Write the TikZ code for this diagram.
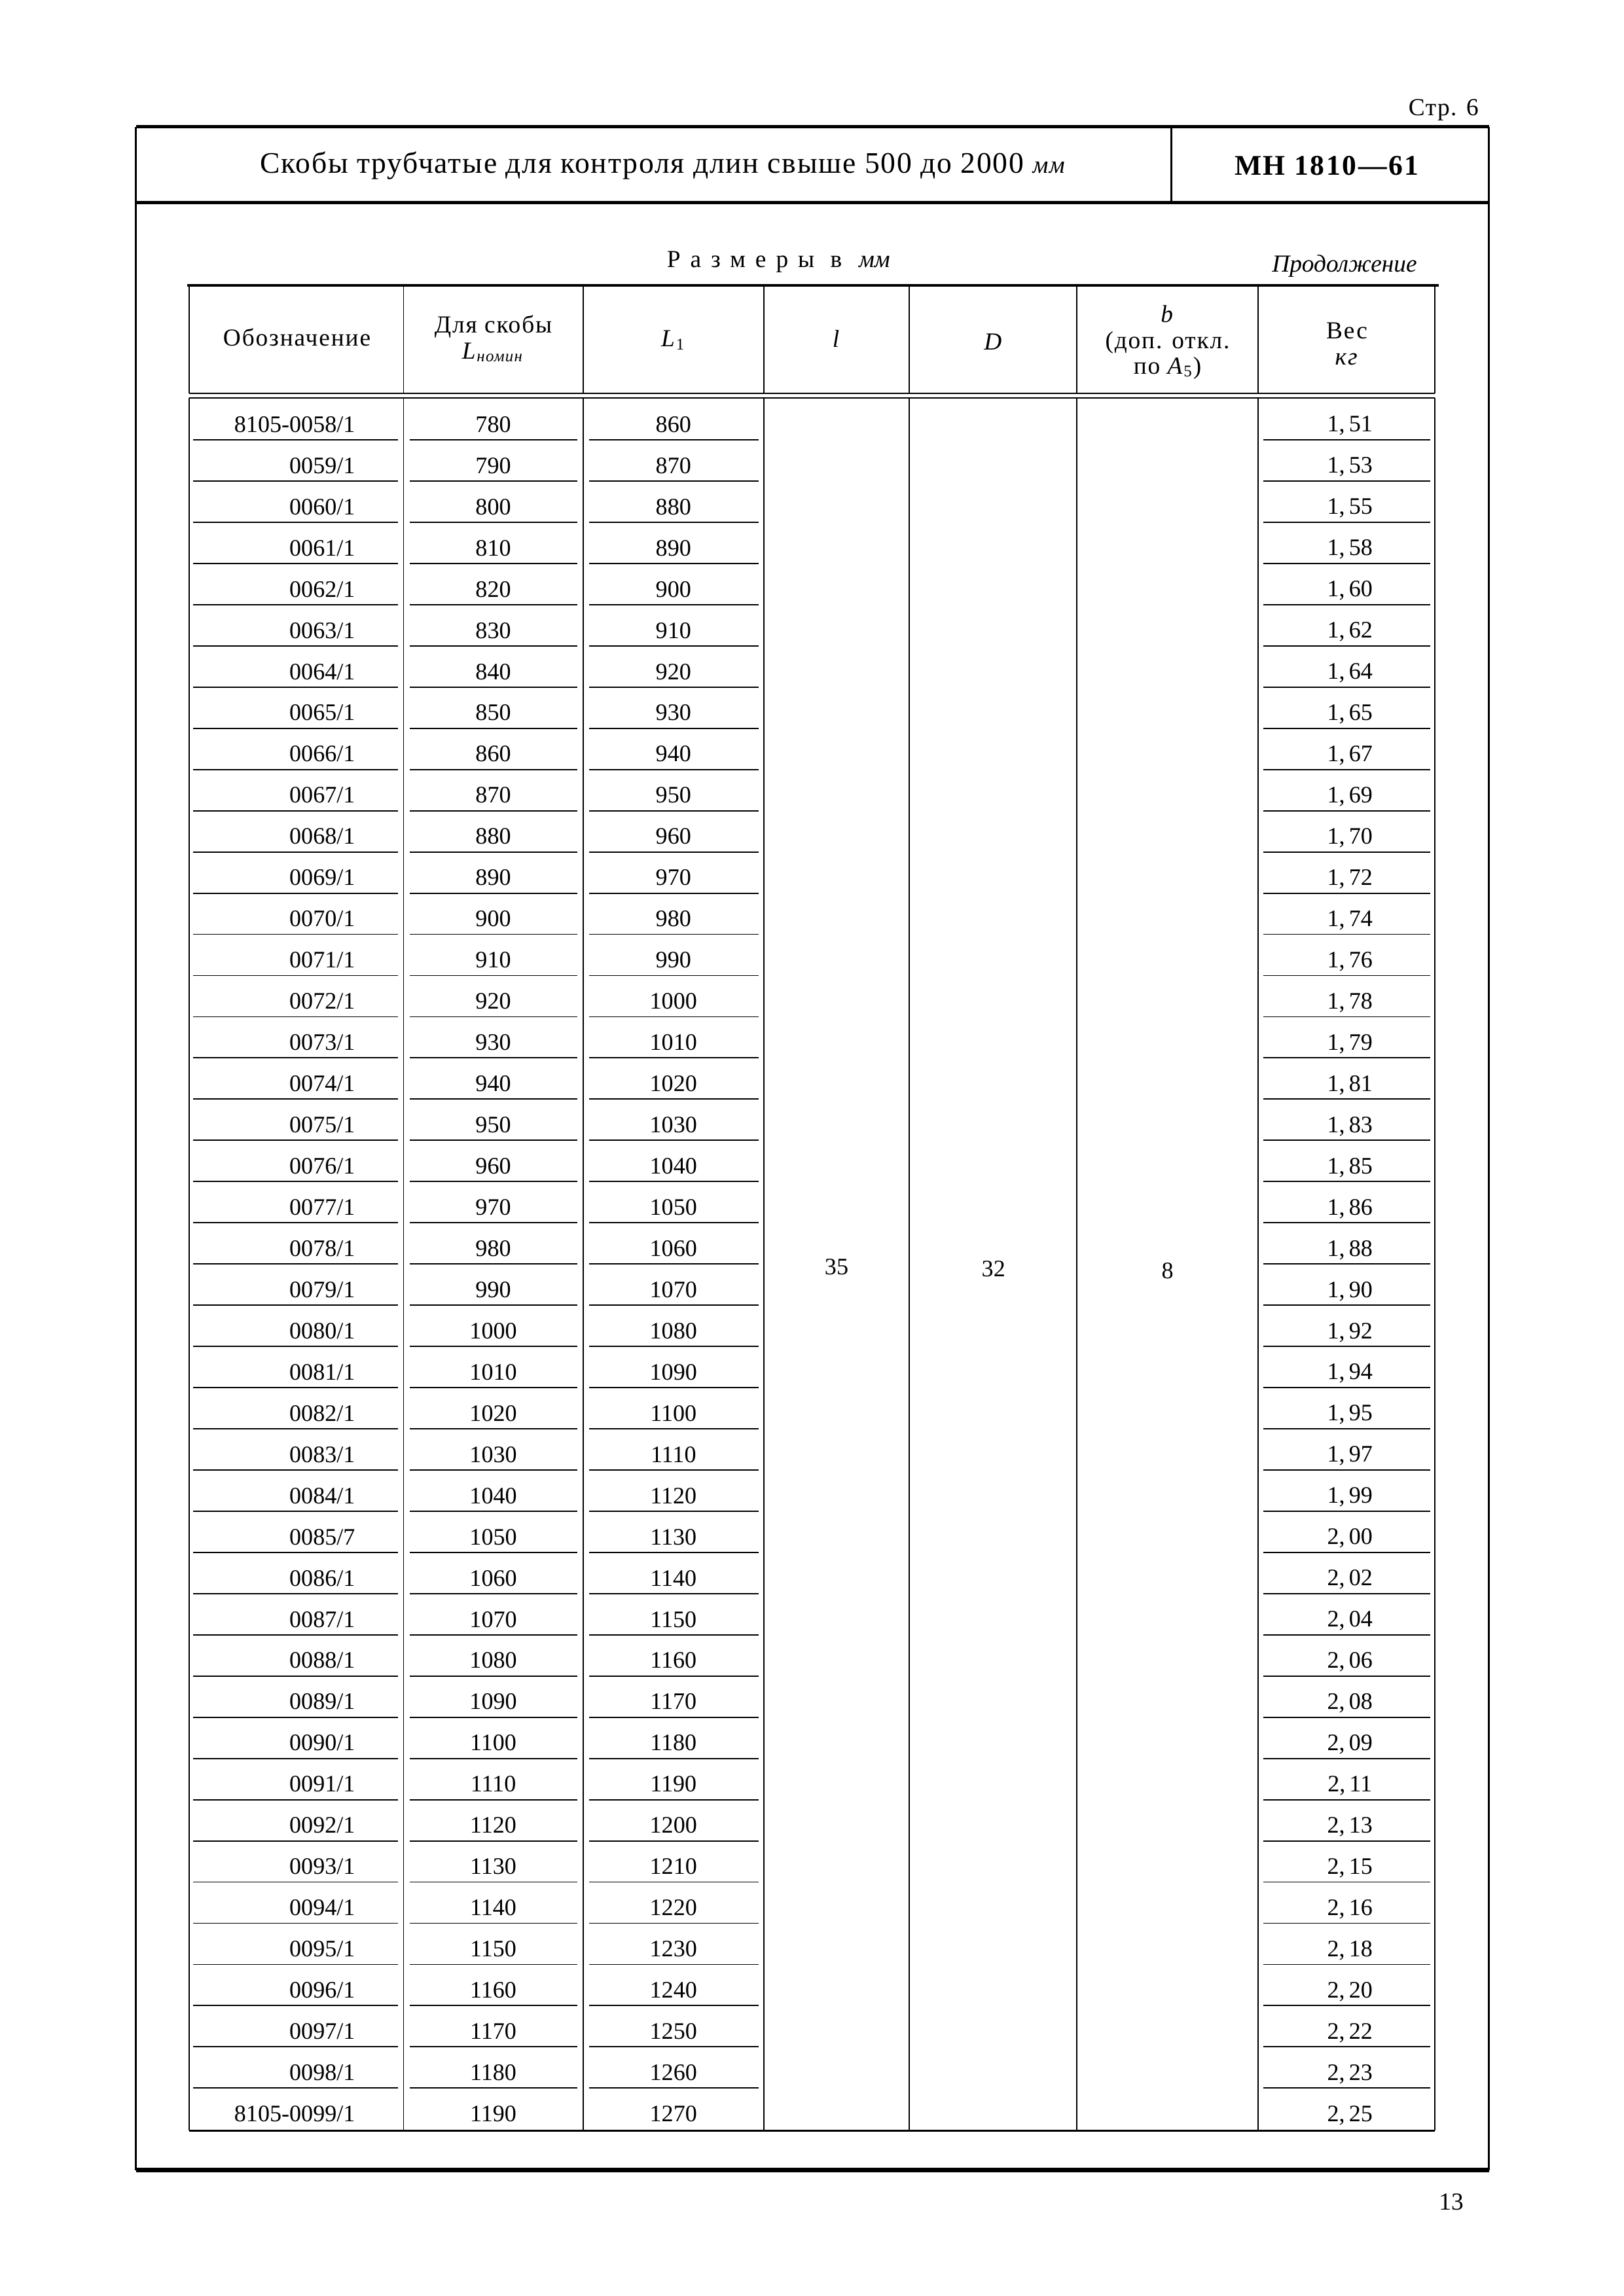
\documentclass[tikz,border=0pt]{standalone}
\usepackage{fontspec}
\setmainfont{Liberation Serif}

\tikzset{
  thickrule/.style={line width=1.2pt},
  framerule/.style={line width=0.7pt},
  thinrule/.style={line width=0.45pt},
  cell/.style={inner sep=0pt, font=\fontsize{8.7}{10}\selectfont},
  headcell/.style={inner sep=0pt, align=center,
    font=\fontsize{9}{9.5}\selectfont\addfontfeatures{LetterSpace=5}},
}

\begin{document}
\begin{tikzpicture}[x=1mm, y=-1mm]
  \useasboundingbox (0,0) rectangle (210,297);

  % page frame and title block
  \node [anchor=east, inner sep=0pt, font=\fontsize{9}{10}\selectfont\addfontfeatures{LetterSpace=4}] (page) at (191.3,14.2) {Стр. 6};
  \draw [thickrule] (17.6,16.4) -- (192.6,16.4);
  \draw [thickrule] (17.6,26.2) -- (192.6,26.2);
  \draw [thickrule, line width=1.5pt] (17.6,280.7) -- (192.6,280.7);
  \draw [framerule] (17.6,16.4) -- (17.6,280.7);
  \draw [framerule] (192.6,16.4) -- (192.6,280.7);
  \draw [framerule] (151.5,16.4) -- (151.5,26.2);
  \node [inner sep=0pt, font=\fontsize{11}{12}\selectfont\addfontfeatures{LetterSpace=4}] (title) at (85.7,21.4)
    {Скобы трубчатые для контроля длин свыше 500 до 2000 {\fontsize{9}{10}\selectfont\itshape мм}};
  \node [inner sep=0pt, font=\fontsize{10.5}{12}\selectfont\bfseries\addfontfeatures{LetterSpace=6}] (code) at (171.6,21.4) {МН 1810—61};
  \node [inner sep=0pt, font=\fontsize{9}{10}\selectfont] (pagenum) at (187.7,284.8) {13};

  % table heading
  \node [inner sep=0pt, font=\fontsize{9}{10}\selectfont] (units) at (100.7,33.9)
    {{\addfontfeatures{LetterSpace=40}Размеры в}\hspace{2.2mm}{\itshape мм}};
  \node [inner sep=0pt, font=\fontsize{9}{10}\selectfont\itshape] (cont) at (173.9,34.4) {Продолжение};

  \draw [thickrule, line width=1pt] (24.2,36.9) -- (186.1,36.9);
  \foreach \x in {24.5,52.2,75.4,98.8,117.6,139.3,162.7,185.6} {
    \draw [thinrule] (\x,36.9) -- (\x,50.9);
    \draw [thinrule] (\x,51.5) -- (\x,275.6);
  }
  \draw [thinrule] (24.5,50.9) -- (185.6,50.9);
  \draw [thinrule] (24.5,51.5) -- (185.6,51.5);
  \draw [thinrule, line width=0.7pt] (24.5,275.6) -- (185.6,275.6);

  \node [headcell] (h-des) at (38.4,43.6) {Обозначение};
  \node [headcell] (h-lnom) at (63.8,43.8) {Для скобы\\\textit{L}\textsubscript{\textit{номин}}};
  \node [headcell] (h-lone) at (87.1,44.0) {\textit{L}\textsubscript{1}};
  \node [headcell] (h-l) at (108.2,43.8) {\textit{l}};
  \node [headcell] (h-d) at (128.5,44.2) {\textit{D}};
  \node [headcell] (h-b) at (151.0,44.3) {\textit{b}\\(доп. откл.\\по \textit{A}\textsubscript{5})};
  \node [headcell] (h-wt) at (174.2,44.5) {Вес\\\textit{кг}};

  % rows
  \foreach \i in {0,...,41} {
    \pgfmathsetmacro{\y}{54.9+5.33*\i}
    \pgfmathtruncatemacro{\num}{58+\i}
    \pgfmathtruncatemacro{\lnom}{780+10*\i}
    \pgfmathtruncatemacro{\lone}{860+10*\i}
    \ifnum\i=0
      \node [cell, anchor=east] (des-\i) at (46.0,\y) {8105-00\num/1};
    \else\ifnum\i=41
      \node [cell, anchor=east] (des-\i) at (46.0,\y) {8105-00\num/1};
    \else\ifnum\i=27
      \node [cell, anchor=east] (des-\i) at (46.0,\y) {00\num/7};
    \else
      \node [cell, anchor=east] (des-\i) at (46.0,\y) {00\num/1};
    \fi\fi\fi
    \node [cell] (lnom-\i) at (63.8,\y) {\lnom};
    \node [cell] (lone-\i) at (87.1,\y) {\lone};
  }
  \foreach \a/\b [count=\i from 0] in {1/51,1/53,1/55,1/58,1/60,1/62,1/64,1/65,1/67,1/69,
      1/70,1/72,1/74,1/76,1/78,1/79,1/81,1/83,1/85,1/86,1/88,1/90,1/92,1/94,1/95,1/97,1/99,
      2/00,2/02,2/04,2/06,2/08,2/09,2/11,2/13,2/15,2/16,2/18,2/20,2/22,2/23,2/25} {
    \pgfmathsetmacro{\y}{55.1+5.33*\i}
    \node [cell] (wt-\i) at (174.6,\y) {\a,\,\b};
  }
  \foreach \i in {0,...,40} {
    \pgfmathsetmacro{\u}{56.9+5.33*\i}
    \draw [thinrule] (25.0,\u) -- (51.5,\u) (53.0,\u) -- (74.7,\u)
      (76.2,\u) -- (98.1,\u) (163.4,\u) -- (185.0,\u);
  }

  % common values
  \node [cell] (l-val) at (108.2,163.9) {35};
  \node [cell] (d-val) at (128.5,164.1) {32};
  \node [cell] (b-val) at (151.0,164.4) {8};

\end{tikzpicture}
\end{document}
